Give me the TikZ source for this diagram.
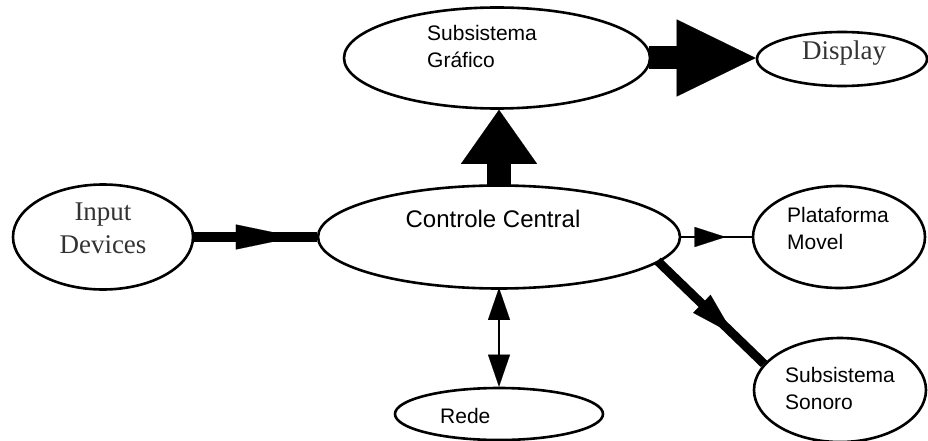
\documentclass[tikz,border=0pt]{standalone}
\usepackage{fontspec}
\setmainfont{Liberation Sans}
\newfontfamily\timesfont{Liberation Serif}
\usetikzlibrary{shapes.geometric,arrows.meta,decorations.markings}
\tikzset{
  box/.style={ellipse,draw,line width=2.6pt,inner sep=0pt},
  lbl/.style={anchor=base west,inner sep=0pt,align=left,font=\fontsize{21}{27}\selectfont},
  serif lbl/.style={anchor=base,inner sep=0pt,align=center,text=black!80,font=\timesfont\fontsize{27}{33}\selectfont},
  midtip/.style 2 args={postaction={decorate},decoration={markings,mark=at position #1 with {\arrow{#2}}}},
  bigtip/.tip={Triangle[length=79pt,width=77pt,line width=0.1pt]},
  uptip/.tip={Triangle[length=54pt,width=76pt,line width=0.1pt]},
  intip/.tip={Triangle[length=60pt,width=25pt,line width=0.1pt]},
  diagtip/.tip={Triangle[length=44pt,width=25pt,line width=0.1pt]},
  smalltip/.tip={Triangle[length=31pt,width=20pt,line width=0.1pt]},
  redetip/.tip={Triangle[length=32pt,width=22pt,line width=0.1pt]}
}
\begin{document}
\begin{tikzpicture}[x=1pt,y=-1pt]
  \useasboundingbox (0,0) rectangle (928,441);
  \node[box,minimum width=306pt,minimum height=101pt] (graf) at (497,58) {};
  \node[box,minimum width=170pt,minimum height=54pt] (disp) at (842,59) {};
  \node[box,minimum width=180pt,minimum height=105pt] (inp) at (103,237) {};
  \node[box,minimum width=362pt,minimum height=103pt] (ctrl) at (499,237) {};
  \node[box,minimum width=172pt,minimum height=102pt] (plat) at (839,237) {};
  \node[box,minimum width=172pt,minimum height=104pt] (sono) at (840,390) {};
  \node[box,minimum width=208pt,minimum height=52pt] (rede) at (499,414) {};
  \node[lbl] (grafT) at (427,68) {Subsistema\\Gráfico};
  \node[serif lbl] (dispT) at (844,60) {Display};
  \node[serif lbl] (inpT) at (103,253) {Input\\Devices};
  \node[lbl,anchor=base,font=\fontsize{24}{28}\selectfont] (ctrlT) at (493,227) {Controle Central};
  \node[lbl] (platT) at (787,249) {Plataforma\\Movel};
  \node[lbl] (sonoT) at (785,409) {Subsistema\\Sonoro};
  \node[lbl] (redeT) at (440,423) {Rede};
  \begin{scope}[shorten <=-2pt]
    \draw[line width=23pt,-bigtip] (graf.east) -- (graf.east -| disp.west);
    \draw[line width=24pt,-uptip] (ctrl.north) -- (ctrl.north |- graf.south);
    \draw[line width=10pt,midtip={0.83}{intip}] (inp.east) -- (ctrl.west);
    \draw[line width=2pt,midtip={0.63}{smalltip}] (ctrl.east) -- (plat.west);
    \draw[line width=9pt,midtip={0.71}{diagtip}] (ctrl.-9) -- (sono.161);
    \draw[line width=2pt,redetip-redetip] (ctrl.south) -- (rede.north);
  \end{scope}
\end{tikzpicture}
\end{document}
